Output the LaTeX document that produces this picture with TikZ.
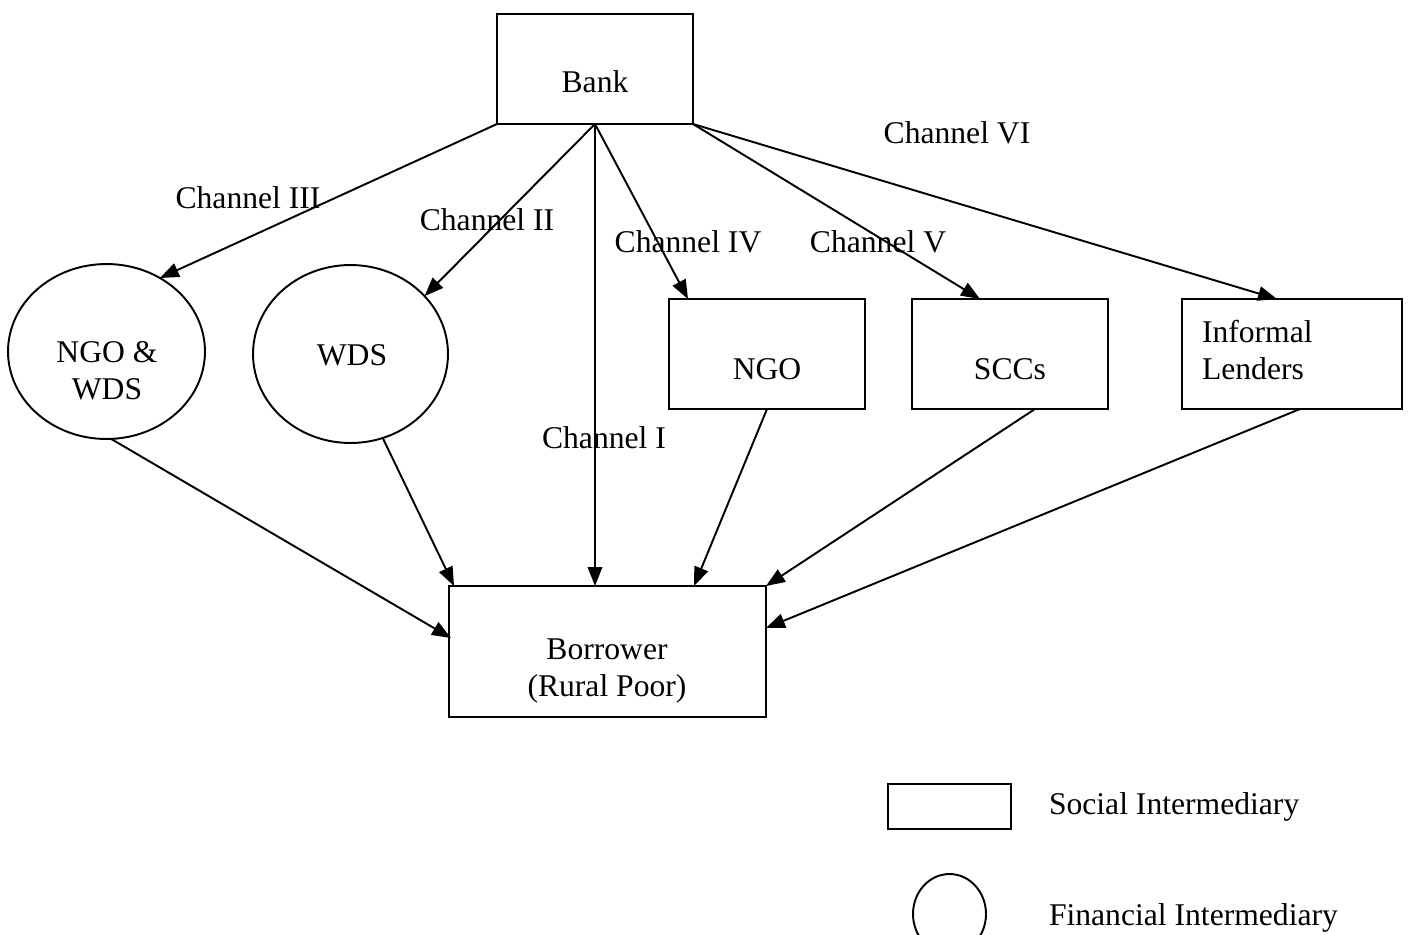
\documentclass[tikz,border=0pt]{standalone}
\usepackage{fontspec}
\setmainfont{Liberation Serif}
\usetikzlibrary{shapes.geometric,arrows.meta,calc}
\begin{document}
\begin{tikzpicture}[x=0.02cm,y=-0.02cm,
  lw/.style={line width=1.1pt},
  sbox/.style={draw,lw,rectangle,inner sep=0pt,outer sep=0pt},
  fell/.style={draw,lw,ellipse,inner sep=0pt,outer sep=0pt},
  txt/.style={inner sep=0pt,outer sep=0pt,font=\fontsize{18}{21.2}\selectfont,align=center},
  arr/.style={lw,-{Triangle[length=0.38cm,width=0.29cm]}}]
\useasboundingbox (0,0) rectangle (1410,934);
% nodes
\node[sbox,minimum width=3.92cm,minimum height=2.2cm] (bank) at (595,69) {};
\node[txt] (bankt) at (595,82) {Bank};
\node[fell,minimum width=3.94cm,minimum height=3.5cm] (nw) at (106.5,351.5) {};
\node[txt] (nwt) at (107,371) {NGO \&\\WDS};
\node[fell,minimum width=3.9cm,minimum height=3.56cm] (wds) at (350.5,354) {};
\node[txt] (wdst) at (352,355) {WDS};
\node[sbox,minimum width=3.92cm,minimum height=2.2cm] (ngo) at (767,354) {};
\node[txt] (ngot) at (767,369) {NGO};
\node[sbox,minimum width=3.92cm,minimum height=2.2cm] (scc) at (1010,354) {};
\node[txt] (scct) at (1010,369) {SCCs};
\node[sbox,minimum width=4.4cm,minimum height=2.2cm] (inf) at (1292,354) {};
\node[txt,align=left,anchor=west] (inft) at (1202,350) {Informal\\Lenders};
\node[sbox,minimum width=6.34cm,minimum height=2.62cm] (bor) at (607.5,651.5) {};
\node[txt] (bort) at (607,671) {Borrower\\(Rural Poor)};
% channel labels
\node[txt] (c3) at (248,198) {Channel III};
\node[txt] (c2) at (487,220) {Channel II};
\node[txt] (c4) at (688,242) {Channel IV};
\node[txt] (c5) at (878,242) {Channel V};
\node[txt] (c6) at (957,133) {Channel VI};
\node[txt] (c1) at (604,438) {Channel I};
% legend
\node[sbox,minimum width=2.46cm,minimum height=0.9cm] (lrect) at (949.5,806.5) {};
\node[txt,anchor=west] (lrt) at (1049,807) {Social Intermediary};
\node[fell,minimum width=1.46cm,minimum height=1.6cm] (lell) at (949.5,914) {};
\node[txt,anchor=west] (let) at (1049,918) {Financial Intermediary};
% connectors from bank
\draw[arr] (bank.south west) -- (nw.54);
\draw[arr] (bank.south) -- (wds.38.5);
\draw[arr] (bank.south) -- (bank.south |- bor.north);
\draw[arr] (bank.south) -- ($(ngo.north west)+(19,0)$);
\draw[arr] (bank.south east) -- ($(scc.north west)+(68,0)$);
\draw[arr] (bank.south east) -- ($(inf.north west)+(95,0)$);
% connectors to borrower
\draw[arr] (nw.-87.8) -- ($(bor.north west)+(2,52)$);
\draw[arr] (wds.-69) -- ($(bor.north west)+(5,0)$);
\draw[arr] (ngo.south) -- ($(bor.north west)+(245,0)$);
\draw[arr] ($(scc.south)+(25,0)$) -- (bor.north east);
\draw[arr] ($(inf.south)+(8,0)$) -- ($(bor.north east)+(0,42)$);
\end{tikzpicture}
\end{document}
